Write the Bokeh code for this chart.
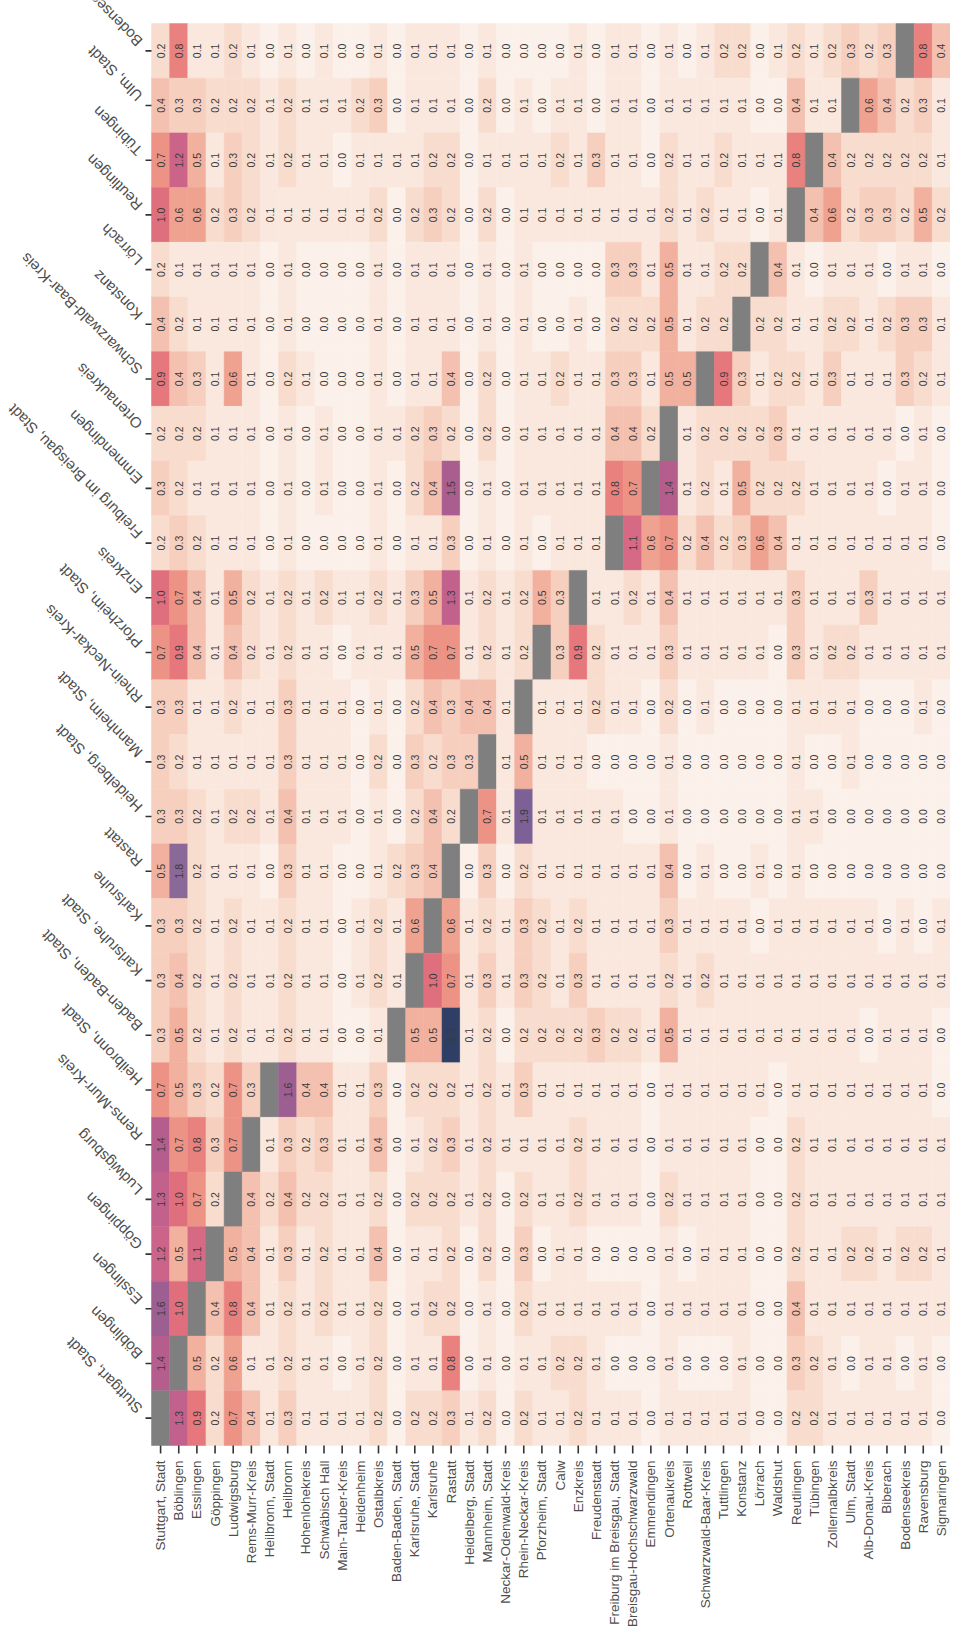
import numpy as np
from bokeh.plotting import figure
from bokeh.models import Range1d, ColumnDataSource, LinearColorMapper
from bokeh.transform import transform
from bokeh.embed import file_html
from bokeh.resources import INLINE
from bokeh.core.properties import value

# ---- categories -------------------------------------------------------------
origins = [
    "Stuttgart, Stadt", "Böblingen", "Esslingen", "Göppingen", "Ludwigsburg",
    "Rems-Murr-Kreis", "Heilbronn, Stadt", "Heilbronn", "Hohenlohekreis",
    "Schwäbisch Hall", "Main-Tauber-Kreis", "Heidenheim", "Ostalbkreis",
    "Baden-Baden, Stadt", "Karlsruhe, Stadt", "Karlsruhe", "Rastatt",
    "Heidelberg, Stadt", "Mannheim, Stadt", "Neckar-Odenwald-Kreis",
    "Rhein-Neckar-Kreis", "Pforzheim, Stadt", "Calw", "Enzkreis", "Freudenstadt",
    "Freiburg im Breisgau, Stadt", "Breisgau-Hochschwarzwald", "Emmendingen",
    "Ortenaukreis", "Rottweil", "Schwarzwald-Baar-Kreis", "Tuttlingen",
    "Konstanz", "Lörrach", "Waldshut", "Reutlingen", "Tübingen",
    "Zollernalbkreis", "Ulm, Stadt", "Alb-Donau-Kreis", "Biberach",
    "Bodenseekreis", "Ravensburg", "Sigmaringen",
]

# destinations, listed from top to bottom
destinations = [
    "Bodenseekreis", "Ulm, Stadt", "Tübingen", "Reutlingen", "Lörrach",
    "Konstanz", "Schwarzwald-Baar-Kreis", "Ortenaukreis", "Emmendingen",
    "Freiburg im Breisgau, Stadt", "Enzkreis", "Pforzheim, Stadt",
    "Rhein-Neckar-Kreis", "Mannheim, Stadt", "Heidelberg, Stadt", "Rastatt",
    "Karlsruhe", "Karlsruhe, Stadt", "Baden-Baden, Stadt", "Heilbronn, Stadt",
    "Rems-Murr-Kreis", "Ludwigsburg", "Göppingen", "Esslingen", "Böblingen",
    "Stuttgart, Stadt",
]

# ---- values (one list per destination row, across the 44 origins) ----------
to_bodenseekreis = [0.2, 0.8, 0.1, 0.1, 0.2, 0.1, 0.0, 0.1, 0.0, 0.1, 0.0, 0.0, 0.1, 0.0, 0.1,
                    0.1, 0.1, 0.0, 0.1, 0.0, 0.0, 0.0, 0.0, 0.1, 0.0, 0.1, 0.1, 0.0, 0.1, 0.0,
                    0.1, 0.2, 0.2, 0.0, 0.1, 0.2, 0.1, 0.2, 0.3, 0.2, 0.3, None, 0.8, 0.4]
to_ulm = [0.4, 0.3, 0.3, 0.2, 0.2, 0.2, 0.1, 0.2, 0.1, 0.1, 0.1, 0.2, 0.3, 0.0, 0.1,
          0.1, 0.1, 0.0, 0.2, 0.0, 0.1, 0.0, 0.1, 0.1, 0.0, 0.1, 0.1, 0.0, 0.1, 0.1,
          0.1, 0.1, 0.1, 0.0, 0.0, 0.4, 0.1, 0.1, None, 0.6, 0.4, 0.2, 0.3, 0.1]
to_tuebingen = [0.7, 1.2, 0.5, 0.1, 0.3, 0.2, 0.1, 0.2, 0.1, 0.1, 0.0, 0.1, 0.1, 0.1, 0.1,
                0.2, 0.2, 0.0, 0.1, 0.1, 0.1, 0.1, 0.2, 0.1, 0.3, 0.1, 0.1, 0.0, 0.2, 0.1,
                0.1, 0.2, 0.1, 0.1, 0.1, 0.8, None, 0.4, 0.2, 0.2, 0.2, 0.2, 0.2, 0.1]
to_reutlingen = [1.0, 0.6, 0.6, 0.2, 0.3, 0.2, 0.1, 0.1, 0.1, 0.1, 0.1, 0.1, 0.2, 0.0, 0.2,
                 0.3, 0.2, 0.0, 0.2, 0.0, 0.1, 0.1, 0.1, 0.1, 0.1, 0.1, 0.1, 0.1, 0.2, 0.1,
                 0.2, 0.1, 0.1, 0.0, 0.1, None, 0.4, 0.6, 0.2, 0.3, 0.3, 0.2, 0.5, 0.2]
to_loerrach = [0.2, 0.1, 0.1, 0.1, 0.1, 0.1, 0.0, 0.1, 0.0, 0.0, 0.0, 0.0, 0.1, 0.0, 0.1,
               0.1, 0.1, 0.0, 0.1, 0.0, 0.1, 0.0, 0.0, 0.0, 0.0, 0.3, 0.3, 0.1, 0.5, 0.1,
               0.1, 0.2, 0.2, None, 0.4, 0.1, 0.0, 0.1, 0.1, 0.1, 0.0, 0.1, 0.1, 0.0]
to_konstanz = [0.4, 0.2, 0.1, 0.1, 0.1, 0.1, 0.0, 0.1, 0.0, 0.0, 0.0, 0.0, 0.1, 0.0, 0.1,
               0.1, 0.1, 0.0, 0.1, 0.0, 0.1, 0.0, 0.0, 0.1, 0.0, 0.2, 0.2, 0.2, 0.5, 0.1,
               0.2, 0.2, None, 0.2, 0.2, 0.1, 0.1, 0.2, 0.2, 0.1, 0.2, 0.3, 0.3, 0.1]
to_schwarzwald_baar = [0.9, 0.4, 0.3, 0.1, 0.6, 0.1, 0.0, 0.2, 0.1, 0.0, 0.0, 0.0, 0.1, 0.0, 0.1,
                       0.1, 0.4, 0.0, 0.2, 0.0, 0.1, 0.1, 0.2, 0.1, 0.1, 0.3, 0.3, 0.1, 0.5, 0.5,
                       None, 0.9, 0.3, 0.1, 0.2, 0.2, 0.1, 0.3, 0.1, 0.1, 0.1, 0.3, 0.2, 0.1]
to_ortenaukreis = [0.2, 0.2, 0.2, 0.1, 0.1, 0.1, 0.0, 0.1, 0.0, 0.1, 0.0, 0.0, 0.1, 0.1, 0.2,
                   0.3, 0.2, 0.0, 0.2, 0.0, 0.1, 0.1, 0.1, 0.1, 0.1, 0.4, 0.4, 0.2, None, 0.1,
                   0.2, 0.2, 0.2, 0.2, 0.3, 0.1, 0.1, 0.1, 0.1, 0.1, 0.1, 0.0, 0.1, 0.0]
to_emmendingen = [0.3, 0.2, 0.1, 0.1, 0.1, 0.1, 0.0, 0.1, 0.0, 0.1, 0.0, 0.0, 0.1, 0.0, 0.2,
                  0.4, 1.5, 0.0, 0.1, 0.0, 0.1, 0.1, 0.1, 0.1, 0.1, 0.8, 0.7, None, 1.4, 0.1,
                  0.2, 0.1, 0.5, 0.2, 0.2, 0.2, 0.1, 0.1, 0.1, 0.1, 0.0, 0.1, 0.1, 0.0]
to_freiburg = [0.2, 0.3, 0.2, 0.1, 0.1, 0.1, 0.0, 0.1, 0.0, 0.0, 0.0, 0.0, 0.1, 0.0, 0.1,
               0.1, 0.3, 0.0, 0.1, 0.0, 0.1, 0.0, 0.1, 0.1, 0.1, None, 1.1, 0.6, 0.7, 0.2,
               0.4, 0.2, 0.3, 0.6, 0.4, 0.1, 0.1, 0.1, 0.1, 0.1, 0.1, 0.1, 0.1, 0.0]
to_enzkreis = [1.0, 0.7, 0.4, 0.1, 0.5, 0.2, 0.1, 0.2, 0.1, 0.2, 0.1, 0.1, 0.2, 0.1, 0.3,
               0.5, 1.3, 0.1, 0.2, 0.1, 0.2, 0.5, 0.3, None, 0.1, 0.1, 0.2, 0.1, 0.4, 0.1,
               0.1, 0.1, 0.1, 0.1, 0.1, 0.3, 0.1, 0.1, 0.1, 0.3, 0.1, 0.1, 0.1, 0.1]
to_pforzheim = [0.7, 0.9, 0.4, 0.1, 0.4, 0.2, 0.1, 0.2, 0.1, 0.1, 0.0, 0.1, 0.1, 0.1, 0.5,
                0.7, 0.7, 0.1, 0.2, 0.1, 0.2, None, 0.3, 0.9, 0.2, 0.1, 0.1, 0.1, 0.3, 0.1,
                0.1, 0.1, 0.1, 0.1, 0.0, 0.3, 0.1, 0.2, 0.2, 0.1, 0.1, 0.1, 0.1, 0.1]
to_rhein_neckar = [0.3, 0.3, 0.1, 0.1, 0.2, 0.1, 0.1, 0.3, 0.1, 0.1, 0.1, 0.0, 0.1, 0.0, 0.2,
                   0.4, 0.3, 0.4, 0.4, 0.1, None, 0.1, 0.1, 0.1, 0.2, 0.1, 0.1, 0.0, 0.2, 0.0,
                   0.1, 0.0, 0.0, 0.0, 0.0, 0.1, 0.1, 0.1, 0.1, 0.0, 0.0, 0.0, 0.1, 0.0]
to_mannheim = [0.3, 0.2, 0.1, 0.1, 0.1, 0.1, 0.1, 0.3, 0.1, 0.1, 0.1, 0.0, 0.2, 0.0, 0.3,
               0.2, 0.3, 0.3, None, 0.1, 0.5, 0.1, 0.1, 0.1, 0.0, 0.0, 0.0, 0.0, 0.1, 0.0,
               0.0, 0.0, 0.0, 0.0, 0.0, 0.1, 0.0, 0.0, 0.1, 0.0, 0.0, 0.0, 0.0, 0.0]
to_heidelberg = [0.3, 0.3, 0.2, 0.1, 0.2, 0.2, 0.1, 0.4, 0.1, 0.1, 0.1, 0.0, 0.1, 0.0, 0.2,
                 0.4, 0.2, None, 0.7, 0.1, 1.9, 0.1, 0.1, 0.1, 0.1, 0.1, 0.0, 0.0, 0.1, 0.0,
                 0.0, 0.0, 0.0, 0.0, 0.0, 0.1, 0.1, 0.0, 0.0, 0.0, 0.0, 0.0, 0.0, 0.0]
to_rastatt = [0.5, 1.8, 0.2, 0.1, 0.1, 0.1, 0.0, 0.3, 0.1, 0.1, 0.0, 0.0, 0.1, 0.2, 0.3,
              0.4, None, 0.0, 0.3, 0.0, 0.2, 0.1, 0.1, 0.1, 0.1, 0.1, 0.1, 0.1, 0.4, 0.0,
              0.1, 0.0, 0.0, 0.1, 0.0, 0.1, 0.0, 0.0, 0.0, 0.0, 0.0, 0.0, 0.0, 0.0]
to_karlsruhe = [0.3, 0.3, 0.2, 0.1, 0.2, 0.1, 0.1, 0.2, 0.1, 0.1, 0.0, 0.1, 0.2, 0.1, 0.6,
                None, 0.6, 0.1, 0.2, 0.1, 0.3, 0.2, 0.1, 0.2, 0.1, 0.1, 0.1, 0.1, 0.3, 0.1,
                0.1, 0.1, 0.1, 0.0, 0.1, 0.1, 0.1, 0.1, 0.1, 0.1, 0.0, 0.1, 0.0, 0.1]
to_karlsruhe_stadt = [0.3, 0.4, 0.2, 0.1, 0.2, 0.1, 0.1, 0.2, 0.1, 0.1, 0.0, 0.1, 0.2, 0.1, None,
                      1.0, 0.7, 0.1, 0.3, 0.1, 0.3, 0.2, 0.1, 0.3, 0.1, 0.1, 0.1, 0.1, 0.2, 0.1,
                      0.2, 0.1, 0.1, 0.1, 0.1, 0.1, 0.1, 0.1, 0.1, 0.1, 0.1, 0.1, 0.1, 0.1]
to_baden_baden = [0.3, 0.5, 0.2, 0.1, 0.2, 0.1, 0.1, 0.2, 0.1, 0.1, 0.0, 0.0, 0.1, None, 0.5,
                  0.5, 2.3, 0.1, 0.2, 0.0, 0.2, 0.2, 0.2, 0.2, 0.3, 0.2, 0.2, 0.1, 0.5, 0.1,
                  0.1, 0.1, 0.1, 0.1, 0.1, 0.1, 0.1, 0.1, 0.1, 0.0, 0.1, 0.1, 0.1, 0.0]
to_heilbronn_stadt = [0.7, 0.5, 0.3, 0.2, 0.7, 0.3, None, 1.6, 0.4, 0.4, 0.1, 0.1, 0.3, 0.0, 0.2,
                      0.2, 0.2, 0.1, 0.2, 0.1, 0.3, 0.1, 0.1, 0.1, 0.1, 0.1, 0.1, 0.0, 0.1, 0.1,
                      0.1, 0.1, 0.1, 0.1, 0.0, 0.1, 0.1, 0.1, 0.1, 0.1, 0.1, 0.1, 0.1, 0.0]
to_rems_murr = [1.4, 0.7, 0.8, 0.3, 0.7, None, 0.1, 0.3, 0.2, 0.3, 0.1, 0.1, 0.4, 0.0, 0.1,
                0.2, 0.3, 0.1, 0.2, 0.1, 0.1, 0.1, 0.1, 0.2, 0.1, 0.1, 0.1, 0.0, 0.1, 0.1,
                0.1, 0.1, 0.1, 0.0, 0.0, 0.2, 0.1, 0.1, 0.1, 0.1, 0.1, 0.1, 0.1, 0.1]
to_ludwigsburg = [1.3, 1.0, 0.7, 0.2, None, 0.4, 0.2, 0.4, 0.2, 0.2, 0.1, 0.1, 0.2, 0.0, 0.2,
                  0.2, 0.2, 0.1, 0.2, 0.0, 0.2, 0.1, 0.1, 0.2, 0.1, 0.1, 0.1, 0.0, 0.2, 0.1,
                  0.1, 0.1, 0.1, 0.0, 0.0, 0.2, 0.1, 0.1, 0.1, 0.1, 0.1, 0.1, 0.1, 0.1]
to_goeppingen = [1.2, 0.5, 1.1, None, 0.5, 0.4, 0.1, 0.3, 0.1, 0.2, 0.1, 0.1, 0.4, 0.0, 0.1,
                 0.1, 0.2, 0.0, 0.2, 0.0, 0.3, 0.0, 0.1, 0.1, 0.0, 0.0, 0.0, 0.0, 0.1, 0.0,
                 0.1, 0.1, 0.1, 0.0, 0.0, 0.2, 0.1, 0.1, 0.2, 0.2, 0.1, 0.2, 0.2, 0.1]
to_esslingen = [1.6, 1.0, None, 0.4, 0.8, 0.4, 0.1, 0.2, 0.1, 0.2, 0.1, 0.1, 0.2, 0.0, 0.1,
                0.2, 0.2, 0.0, 0.1, 0.0, 0.2, 0.1, 0.1, 0.1, 0.1, 0.1, 0.1, 0.0, 0.1, 0.1,
                0.1, 0.1, 0.1, 0.0, 0.0, 0.4, 0.1, 0.1, 0.1, 0.1, 0.1, 0.1, 0.1, 0.1]
to_boeblingen = [1.4, None, 0.5, 0.2, 0.6, 0.1, 0.1, 0.2, 0.1, 0.1, 0.0, 0.1, 0.2, 0.0, 0.1,
                 0.1, 0.8, 0.0, 0.1, 0.0, 0.1, 0.1, 0.2, 0.2, 0.1, 0.0, 0.0, 0.0, 0.1, 0.0,
                 0.0, 0.0, 0.1, 0.0, 0.0, 0.3, 0.2, 0.1, 0.0, 0.1, 0.1, 0.0, 0.1, 0.0]
to_stuttgart = [None, 1.3, 0.9, 0.2, 0.7, 0.4, 0.1, 0.3, 0.1, 0.1, 0.1, 0.1, 0.2, 0.0, 0.2,
                0.2, 0.3, 0.1, 0.2, 0.0, 0.2, 0.1, 0.1, 0.2, 0.1, 0.1, 0.1, 0.0, 0.1, 0.1,
                0.1, 0.1, 0.1, 0.0, 0.0, 0.2, 0.2, 0.1, 0.1, 0.1, 0.1, 0.1, 0.1, 0.0]

rows = [to_bodenseekreis, to_ulm, to_tuebingen, to_reutlingen, to_loerrach,
        to_konstanz, to_schwarzwald_baar, to_ortenaukreis, to_emmendingen,
        to_freiburg, to_enzkreis, to_pforzheim, to_rhein_neckar, to_mannheim,
        to_heidelberg, to_rastatt, to_karlsruhe, to_karlsruhe_stadt,
        to_baden_baden, to_heilbronn_stadt, to_rems_murr, to_ludwigsburg,
        to_goeppingen, to_esslingen, to_boeblingen, to_stuttgart]

# ---- colour scale -------------------------------------------------------------
stop_vals = [0.0, 0.1, 0.2, 0.3, 0.4, 0.5, 0.6, 0.7, 0.8, 0.9, 1.0, 1.2, 1.4, 1.6, 1.8, 1.9, 2.3]
stop_rgb = [(251, 241, 234), (250, 232, 222), (248, 221, 207), (246, 207, 191),
            (244, 192, 174), (242, 176, 157), (239, 161, 143), (237, 146, 133),
            (233, 130, 127), (229, 119, 125), (224, 111, 126), (204, 100, 138),
            (181, 94, 142), (158, 94, 146), (138, 104, 152), (126, 96, 150), (46, 62, 100)]
grid_vals = np.linspace(0, 2.3, 256)
palette = []
for gv in grid_vals:
    c = [int(round(np.interp(gv, stop_vals, [s[j] for s in stop_rgb]))) for j in range(3)]
    palette.append("#%02x%02x%02x" % tuple(c))
mapper = LinearColorMapper(palette=palette, low=0.0, high=2.3, nan_color="#7f7f7f")

# ---- build cell table -------------------------------------------------------
n_x, n_y = len(origins), len(destinations)
xs, ys, vs, labs = [], [], [], []
for k, row in enumerate(rows):
    yk = n_y - 1 - k
    for i, v in enumerate(row):
        xs.append(i)
        ys.append(yk)
        vs.append(np.nan if v is None else float(v))
        labs.append("" if v is None else "%.1f" % v)
cells = ColumnDataSource(dict(x=xs, y=ys, v=np.array(vs), lab=labs))

# ---- layout -----------------------------------------------------------------
W, H = 950, 1630
grid_left_px, grid_top_px, grid_bottom_px = 151, 23, 1445
sx = (W - grid_left_px) / n_x
sy = (grid_bottom_px - grid_top_px) / n_y
x_start = -0.5 - grid_left_px / sx
x_end = n_x - 0.5
y_end = n_y - 0.5 + grid_top_px / sy
y_start = -0.5 - (H - grid_bottom_px) / sy

p = figure(width=W, height=H, x_range=Range1d(x_start, x_end),
           y_range=Range1d(y_start, y_end), output_backend="svg",
           toolbar_location=None, x_axis_location=None, y_axis_location=None,
           min_border=0, title=None, outline_line_color=None,
           background_fill_color="white", border_fill_color="white")
p.grid.visible = False

p.rect(x="x", y="y", width=1, height=1, source=cells,
       fill_color=transform("v", mapper), line_color=transform("v", mapper),
       line_width=0.5)
p.text(x="x", y="y", text="lab", source=cells, angle=np.pi / 2,
       text_align="center", text_baseline="middle", text_font_size="10.5px",
       text_color="#3a3a3a", text_font=value("Liberation Sans"))

# ticks
tick_col = "#333333"
yt = [n_y - 1 - k for k in range(n_y)]
p.segment(x0=[-0.5 - 6 / sx] * n_y, y0=yt, x1=[-0.5] * n_y, y1=yt,
          line_color=tick_col, line_width=1.6)
xt = list(range(n_x))
p.segment(x0=xt, y0=[-0.5] * n_x, x1=xt, y1=[-0.5 - 8 / sy] * n_x,
          line_color=tick_col, line_width=1.6)

# left (destination) labels, rotated
p.text(x=[-0.5 - 12 / sx] * n_y, y=[v + 7 / sy for v in yt], text=destinations,
       angle=3 * np.pi / 4, text_align="left", text_baseline="middle",
       text_font_size="15px", text_color="#4d4d4d",
       text_font=value("Liberation Sans"))
# bottom (origin) labels, vertical
p.text(x=xt, y=[-0.5 - 15 / sy] * n_x, text=origins, angle=np.pi / 2,
       text_align="right", text_baseline="middle", text_font_size="13.5px",
       text_color="#4d4d4d", text_font=value("Liberation Sans"))

open("out.html", "w").write(file_html(p, INLINE))
